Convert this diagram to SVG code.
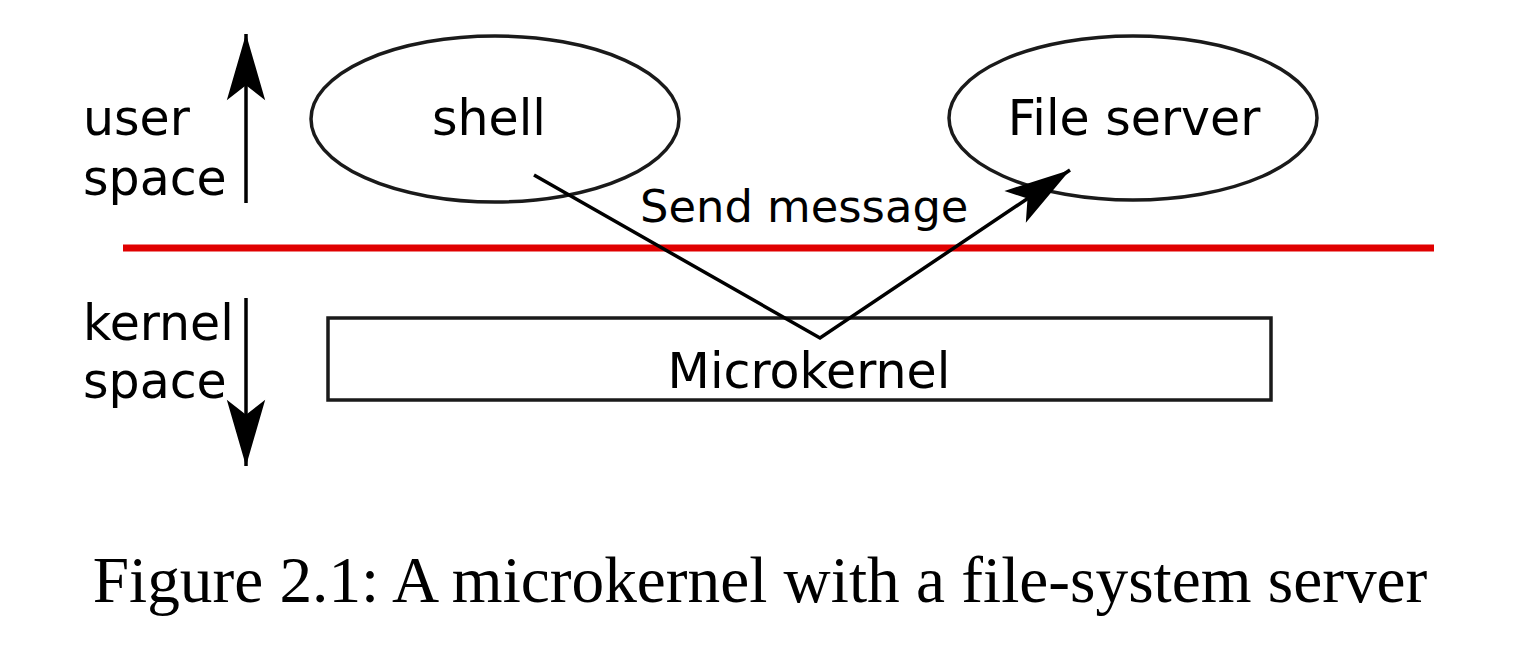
<svg xmlns="http://www.w3.org/2000/svg" width="1534" height="658" viewBox="0 0 1534 658">
<style>
.lbl{font-family:"DejaVu Sans",sans-serif;font-size:49px;fill:#000}
.node{fill:#fff;stroke:#1a1a1a;stroke-width:3.5}
.ln{fill:none;stroke:#000;stroke-width:3.5}
</style>
<defs>
<marker id="ah" markerUnits="userSpaceOnUse" markerWidth="80" markerHeight="80" viewBox="-70 -20 75 40" refX="0" refY="0" orient="auto">
<path d="M0,0 L-62,-18 L-48,0 L-62,18 Z" fill="#000"/>
</marker>
</defs>
<rect width="1534" height="658" fill="#fff"/>
<g id="labels">
<text class="lbl" x="83" y="135">user</text>
<text class="lbl" x="83" y="195">space</text>
<text class="lbl" x="83" y="340">kernel</text>
<text class="lbl" x="83" y="398">space</text>
</g>
<g id="shell">
<ellipse class="node" cx="495" cy="119" rx="184" ry="83"/>
<text class="lbl" x="489" y="135" text-anchor="middle">shell</text>
</g>
<g id="fileserver">
<ellipse class="node" cx="1133" cy="118" rx="184" ry="82"/>
<text class="lbl" x="1134" y="135" text-anchor="middle">File server</text>
</g>
<g id="microkernel">
<rect class="node" x="328" y="318" width="943" height="82"/>
<text class="lbl" x="809" y="388" text-anchor="middle">Microkernel</text>
</g>
<line x1="123" y1="248" x2="1434" y2="248" stroke="#e00000" stroke-width="7"/>
<g id="connectors">
<line class="ln" x1="246" y1="203" x2="246" y2="34" marker-end="url(#ah)"/>
<line class="ln" x1="246" y1="298" x2="246" y2="466" marker-end="url(#ah)"/>
<polyline class="ln" points="534,175 820,338 1070,170" marker-end="url(#ah)"/>
<text x="640" y="222" style="font-family:'DejaVu Sans',sans-serif;font-size:44.8px">Send message</text>
</g>
<text x="760" y="602" text-anchor="middle" style="font-family:'Liberation Serif',serif;font-size:65.3px">Figure 2.1: A microkernel with a file-system server</text>
</svg>
